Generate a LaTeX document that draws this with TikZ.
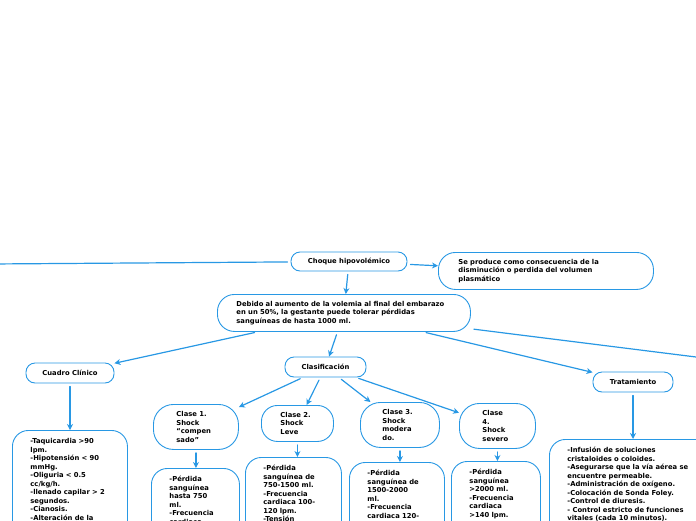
\documentclass[tikz,border=0pt]{standalone}
\usepackage{fontspec}
\setmainfont{DejaVu Sans}
\usetikzlibrary{arrows.meta}
\definecolor{mapblue}{RGB}{40,152,228}

\begin{document}
\begin{tikzpicture}[x=1pt,y=-1pt,>={Stealth[length=6pt,width=6pt]},line cap=round,line join=round,
  topic/.style={draw=mapblue, line width=0.9pt, fill=white, rounded corners=9pt,
    font=\bfseries\fontsize{6.8}{8.5}\selectfont, inner sep=0pt},
  box/.style={topic, anchor=north west, align=left},
  list/.style={box, rounded corners=16pt, inner ysep=8pt, text depth=110pt},
  link/.style={draw=mapblue, line width=1.2pt, ->, shorten <=3pt}]
  \useasboundingbox (0,0) rectangle (696,520);
  \clip (0,0) rectangle (696,520);

  % main topic
  \node[topic, minimum width=116pt, minimum height=19pt] (choque) at (349,261.5) {Choque hipovolémico};
  \node[box, text width=175pt, inner xsep=20pt, minimum height=37pt, rounded corners=17pt] (seproduce) at (438,252)
    {Se produce como consecuencia de la\\disminución o perdida del volumen\\plasmático};
  \node[box, text width=215pt, inner xsep=19pt, minimum height=37pt, rounded corners=17pt] (debido) at (217,294)
    {Debido al aumento de la volemia al final del embarazo\\en un 50\%, la gestante puede tolerar pérdidas\\sanguíneas de hasta 1000 ml.};
  \coordinate (leftend) at (-10,264);
  \coordinate (rightend) at (720,360);

  % branches
  \node[topic, minimum width=88pt, minimum height=20pt] (cuadro) at (70,373) {Cuadro Clínico};
  \node[topic, minimum width=81pt, minimum height=20pt] (clasif) at (325.5,367) {Clasificación};
  \node[topic, minimum width=80pt, minimum height=20pt] (trat) at (633,382) {Tratamiento};

  % classes
  \node[box, text width=39pt, inner xsep=23pt, minimum height=45pt, rounded corners=20pt] (clase1) at (153,404)
    {Clase 1.\\Shock\\“compen\\sado”};
  \node[box, text width=34pt, inner xsep=19pt, minimum height=36pt, rounded corners=16pt] (clase2) at (261,405)
    {Clase 2.\\Shock\\Leve};
  \node[box, text width=35pt, inner xsep=22pt, minimum height=45pt, rounded corners=20pt] (clase3) at (360,402)
    {Clase 3.\\Shock\\modera\\do.};
  \node[box, text width=30pt, inner xsep=23pt, minimum height=45pt, rounded corners=20pt] (clase4) at (459,403)
    {Clase\\4.\\Shock\\severo};

  % details
  \node[list, text width=79pt, inner xsep=18pt] (cuadrolist) at (12,430)
    {-Taquicardia >90\\lpm.\\-Hipotensión < 90\\mmHg.\\-Oliguria < 0.5\\cc/kg/h.\\-llenado capilar > 2\\segundos.\\-Cianosis.\\-Alteración de la};
  \node[list, text width=52pt, inner xsep=18pt] (c1list) at (151,468)
    {-Pérdida\\sanguínea\\hasta 750\\ml.\\-Frecuencia\\cardiaca};
  \node[list, text width=60pt, inner xsep=18pt] (c2list) at (245,457)
    {-Pérdida\\sanguínea de\\750-1500 ml.\\-Frecuencia\\cardiaca 100-\\120 lpm.\\-Tensión};
  \node[list, text width=59pt, inner xsep=18pt] (c3list) at (349,462)
    {-Pérdida\\sanguínea de\\1500-2000\\ml.\\-Frecuencia\\cardiaca 120-};
  \node[list, text width=53pt, inner xsep=18pt] (c4list) at (451,461)
    {-Pérdida\\sanguínea\\>2000 ml.\\-Frecuencia\\cardiaca\\>140 lpm.};
  \node[list, text width=152pt, inner xsep=18pt] (tratlist) at (549,439)
    {-Infusión de soluciones\\cristaloides o coloides.\\-Asegurarse que la vía aérea se\\encuentre permeable.\\-Administración de oxígeno.\\-Colocación de Sonda Foley.\\-Control de diuresis.\\- Control estricto de funciones\\vitales (cada 10 minutos).};

  % links
  \draw[link, -] (choque) -- (leftend);
  \draw[link] (choque) -- (seproduce);
  \draw[link] (choque) -- (debido);
  \draw[link] (debido) -- (cuadro);
  \draw[link] (debido) -- (clasif);
  \draw[link] (debido) -- (trat);
  \draw[link, -] (debido) -- (rightend);
  \draw[link] (clasif) -- (clase1);
  \draw[link] (clasif) -- (clase2);
  \draw[link] (clasif) -- (clase3);
  \draw[link] (clasif) -- (clase4);
  \draw[link] (cuadro.south) -- (cuadro.south |- cuadrolist.north);
  \draw[link] (clase1.south) -- (clase1.south |- c1list.north);
  \draw[link] (clase2.south) -- (clase2.south |- c2list.north);
  \draw[link] (clase3.south) -- (clase3.south |- c3list.north);
  \draw[link] (clase4.south) -- (clase4.south |- c4list.north);
  \draw[link] (trat.south) -- (trat.south |- tratlist.north);
\end{tikzpicture}
\end{document}
